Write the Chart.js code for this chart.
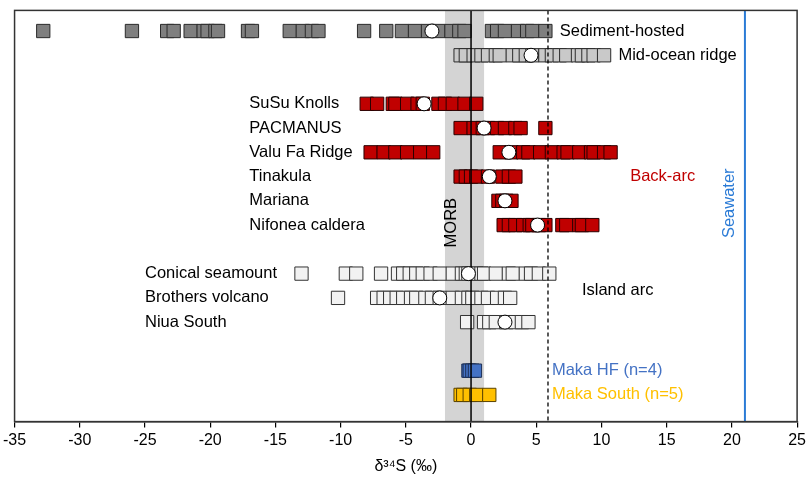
<!DOCTYPE html>
<html>
<head>
<meta charset="utf-8">
<script src="https://cdn.jsdelivr.net/npm/chart.js@4.4.1/dist/chart.umd.min.js"></script>
<style>
  html, body { margin: 0; padding: 0; background: #fff; }
  #wrap { width: 809px; height: 478px; }
</style>
</head>
<body>
<div id="wrap"><canvas id="sulfur"></canvas></div>
<script>
// row order top to bottom, '' = empty gap row
const rows = ['Sediment-hosted', 'Mid-ocean ridge', '',
  'SuSu Knolls', 'PACMANUS', 'Valu Fa Ridge', 'Tinakula', 'Mariana', 'Nifonea caldera', '',
  'Conical seamount', 'Brothers volcano', 'Niua South', '',
  'Maka HF (n=4)', 'Maka South (n=5)']

// d34S values (permil)
const sedimentHosted = [-32.8, -26.0, -23.3, -22.8, -21.5, -20.5, -20.2, -19.6, -19.4, -17.1, -16.8,
  -13.9, -12.9, -12.2, -11.7, -8.2, -6.5, -5.3, -4.3, -3.3, -2.5, -1.5, -0.9, -0.5,
  1.6, 2.0, 2.6, 3.6, 4.3, 4.7, 5.7]
const midOceanRidge = [-0.8, -0.4, 0.2, 0.8, 1.3, 1.9, 2.2, 3.2, 3.7, 4.2, 4.7, 5.7, 6.2, 6.8, 7.3, 8.2, 8.5, 9.0, 9.4, 10.2]
const susuKnolls = [-8.0, -7.2, -6.0, -5.8, -4.9, -4.1, -3.7, -2.5, -2.0, -1.4, -0.5, 0.4]
const pacmanus = [-0.8, 0.2, 0.9, 1.3, 2.0, 2.6, 3.4, 3.8, 5.7]
const valuFa = [-7.7, -6.7, -5.8, -4.9, -3.9, -2.9, 2.2, 3.1, 4.0, 4.4, 5.3, 6.2, 7.1, 7.4, 8.3, 9.2, 9.4, 10.2, 10.7]
const tinakula = [-0.8, -0.4, 0.0, 0.4, 1.3, 2.4, 2.9, 3.4]
const mariana = [2.1, 2.4, 2.7, 3.1]
const nifonea = [2.5, 2.9, 3.4, 4.0, 4.5, 4.7, 5.2, 5.7, 7.0, 7.3, 8.3, 8.5, 9.3]
const conical = [-13.0, -9.6, -8.8, -6.9, -5.6, -5.2, -4.7, -4.2, -3.7, -3.1, -2.4, -1.4, -0.7, -0.4, -0.2,
  0.4, 0.8, 1.0, 1.9, 2.9, 3.2, 4.2, 4.6, 5.2, 6.0]
const brothers = [-10.2, -7.2, -6.7, -6.2, -5.7, -5.2, -4.6, -4.2, -3.5, -3.0, -2.4, -1.4, -0.7, -0.2, 0.1, 0.8, 1.3, 2.0, 2.6, 3.0]
const niuaSouth = [-0.3, 1.0, 1.4, 1.9, 2.7, 3.4, 3.9, 4.4]
const makaHF = [-0.2, -0.1, 0.1, 0.3]
const makaSouth = [-0.8, -0.6, -0.1, 0.4, 1.4]

const meanRows = ['Sediment-hosted', 'Mid-ocean ridge', 'SuSu Knolls', 'PACMANUS', 'Valu Fa Ridge', 'Tinakula',
  'Mariana', 'Nifonea caldera', 'Conical seamount', 'Brothers volcano', 'Niua South']
const meanValues = [-3.0, 4.6, -3.6, 1.0, 2.9, 1.4, 2.6, 5.1, -0.2, -2.4, 2.6]

const morbRange = [-2, 1]
const dashedAt = 5.9
const seawaterAt = 21

const pts = (vals, row) => vals.map(v => ({ x: v, y: rows.indexOf(row) }))

function sq(label, vals, row, fill, edge) {
  return {
    label: label, data: pts(vals, row), pointStyle: 'rect', pointRadius: 9.4, pointHoverRadius: 9.4,
    backgroundColor: fill, borderColor: edge, borderWidth: 1, showLine: false, order: 1
  }
}

const red = '#c00000'
const datasets = [
  sq('Sediment-hosted', sedimentHosted, 'Sediment-hosted', '#7f7f7f', '#2b2b2b'),
  sq('Mid-ocean ridge', midOceanRidge, 'Mid-ocean ridge', '#c9c9c9', '#2b2b2b'),
  sq('SuSu Knolls', susuKnolls, 'SuSu Knolls', red, '#2a0000'),
  sq('PACMANUS', pacmanus, 'PACMANUS', red, '#2a0000'),
  sq('Valu Fa Ridge', valuFa, 'Valu Fa Ridge', red, '#2a0000'),
  sq('Tinakula', tinakula, 'Tinakula', red, '#2a0000'),
  sq('Mariana', mariana, 'Mariana', red, '#2a0000'),
  sq('Nifonea caldera', nifonea, 'Nifonea caldera', red, '#2a0000'),
  sq('Conical seamount', conical, 'Conical seamount', '#f2f2f2', '#333'),
  sq('Brothers volcano', brothers, 'Brothers volcano', '#f2f2f2', '#333'),
  sq('Niua South', niuaSouth, 'Niua South', '#f2f2f2', '#333'),
  sq('Maka HF', makaHF, 'Maka HF (n=4)', '#4472c4', '#1c2f55'),
  sq('Maka South', makaSouth, 'Maka South (n=5)', '#ffc000', '#5a4300'),
  {
    label: 'mean', data: meanRows.map((r, i) => ({ x: meanValues[i], y: rows.indexOf(r) })),
    pointStyle: 'circle', pointRadius: 7, pointHoverRadius: 7, order: 0,
    backgroundColor: '#fff', borderColor: '#000', borderWidth: 1
  }
]
const meanIndex = datasets.length - 1

// text next to the rows: [text, x value, row position, colour]
const notes = [
  ['Sediment-hosted', 6.8, 0, '#000'],
  ['Mid-ocean ridge', 11.3, 1, '#000'],
  ['SuSu Knolls', -17, 3, '#000'],
  ['PACMANUS', -17, 4, '#000'],
  ['Valu Fa Ridge', -17, 5, '#000'],
  ['Tinakula', -17, 6, '#000'],
  ['Mariana', -17, 7, '#000'],
  ['Nifonea caldera', -17, 8, '#000'],
  ['Back-arc', 12.2, 6, red],
  ['Conical seamount', -25, 10, '#000'],
  ['Brothers volcano', -25, 11, '#000'],
  ['Niua South', -25, 12, '#000'],
  ['Island arc', 8.5, 10.7, '#000'],
  ['Maka HF (n=4)', 6.2, 14, '#4472c4'],
  ['Maka South (n=5)', 6.2, 15, '#ffc000']
]

const FONT = '16.5px "Liberation Sans", Arial, sans-serif'

const refs = {
  id: 'refs',
  beforeDatasetsDraw(chart) {
    const { ctx, chartArea: a, scales: { x } } = chart
    ctx.save()
    ctx.fillStyle = '#d4d4d4'
    const l = x.getPixelForValue(morbRange[0]), r = x.getPixelForValue(morbRange[1])
    ctx.fillRect(l, a.top, r - l, a.bottom - a.top)
    ctx.restore()
  },
  beforeDatasetDraw(chart, args) {
    if (args.index !== meanIndex) return
    const { ctx, chartArea: a, scales: { x } } = chart
    ctx.save()
    // zero line
    ctx.strokeStyle = '#000'; ctx.lineWidth = 1.5
    ctx.beginPath(); ctx.moveTo(x.getPixelForValue(0), a.top); ctx.lineTo(x.getPixelForValue(0), a.bottom); ctx.stroke()
    // dashed
    ctx.lineWidth = 1.3; ctx.setLineDash([4, 3])
    ctx.beginPath(); ctx.moveTo(x.getPixelForValue(dashedAt), a.top); ctx.lineTo(x.getPixelForValue(dashedAt), a.bottom); ctx.stroke()
    ctx.setLineDash([])
    // seawater
    ctx.strokeStyle = '#2b7bd6'; ctx.lineWidth = 2
    ctx.beginPath(); ctx.moveTo(x.getPixelForValue(seawaterAt), a.top); ctx.lineTo(x.getPixelForValue(seawaterAt), a.bottom); ctx.stroke()
    ctx.restore()
  },
  afterDraw(chart) {
    const { ctx, chartArea: a, scales: { x, y } } = chart
    ctx.save()
    ctx.strokeStyle = '#333'; ctx.lineWidth = 1.5
    ctx.strokeRect(a.left, a.top, a.right - a.left, a.bottom - a.top)
    ctx.font = FONT
    ctx.textBaseline = 'middle'; ctx.textAlign = 'left'
    notes.forEach(n => {
      ctx.fillStyle = n[3]
      ctx.fillText(n[0], x.getPixelForValue(n[1]), y.getPixelForValue(n[2]))
    })
    // vertical labels
    ctx.textAlign = 'center'
    ctx.save()
    ctx.translate(x.getPixelForValue(-1.5), y.getPixelForValue(7.9)); ctx.rotate(-Math.PI / 2)
    ctx.fillStyle = '#000'; ctx.fillText('MORB', 0, 0)
    ctx.restore()
    ctx.save()
    ctx.translate(x.getPixelForValue(19.8), y.getPixelForValue(7.1)); ctx.rotate(-Math.PI / 2)
    ctx.fillStyle = '#2b7bd6'; ctx.fillText('Seawater', 0, 0)
    ctx.restore()
    ctx.restore()
  }
}

Chart.defaults.font.family = '"Liberation Sans", Arial, sans-serif'
Chart.defaults.font.size = 16
Chart.defaults.color = '#000'

new Chart(document.getElementById('sulfur'), {
  type: 'scatter',
  data: { datasets: datasets },
  options: {
    responsive: true,
    maintainAspectRatio: false,
    animation: false,
    layout: { padding: { top: 4, left: 1, right: 8, bottom: 2 } },
    plugins: { legend: { display: false }, tooltip: { enabled: false } },
    scales: {
      x: {
        type: 'linear', min: -35, max: 25,
        ticks: { stepSize: 5, padding: 3, font: { size: 16 } },
        grid: { drawOnChartArea: false, drawTicks: true, tickLength: 6, color: '#000', lineWidth: 1.2 },
        border: { display: true, color: '#333', width: 1.5 },
        title: { display: true, text: 'δ³⁴S (‰)', font: { size: 16 }, padding: { top: 4, bottom: 0 } }
      },
      y: {
        type: 'linear', display: false, reverse: true, min: -0.85, max: 16.1
      }
    }
  },
  plugins: [refs]
})
</script>
</body>
</html>
